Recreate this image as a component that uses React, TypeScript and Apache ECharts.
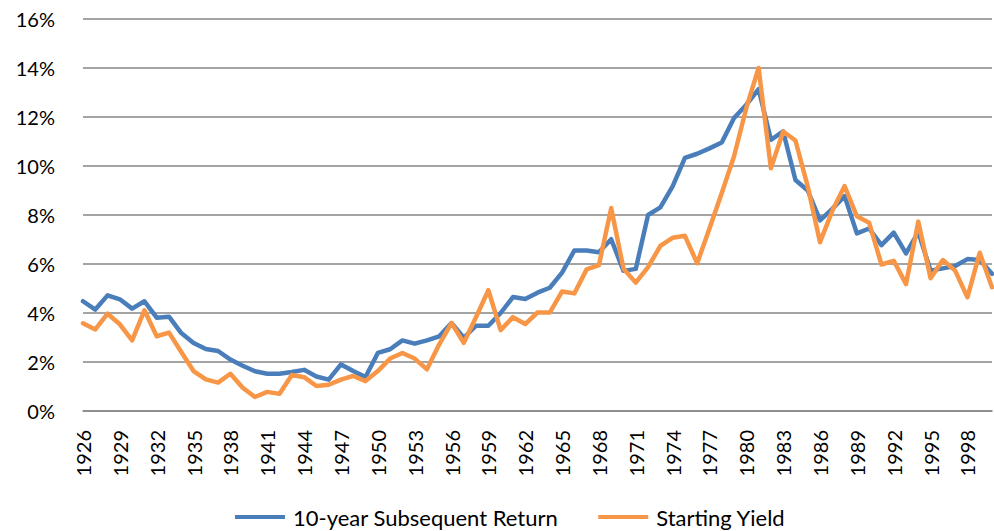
import React, { useEffect, useRef } from "react";
import * as echarts from "echarts";

const years: string[] = [];
for (let y = 1926; y <= 2000; y++) years.push(String(y));

const subsequentReturn = [
  4.48, 4.14, 4.72, 4.56, 4.18, 4.48, 3.81, 3.85, 3.18, 2.78,
  2.53, 2.45, 2.10, 1.85, 1.62, 1.52, 1.52, 1.59, 1.68, 1.41,
  1.28, 1.90, 1.63, 1.39, 2.37, 2.52, 2.88, 2.75, 2.88, 3.05,
  3.59, 2.99, 3.48, 3.48, 4.0, 4.65, 4.57, 4.83, 5.03, 5.65,
  6.55, 6.55, 6.48, 7.01, 5.72, 5.8, 8.0, 8.31, 9.17, 10.33,
  10.5, 10.72, 10.96, 11.96, 12.5, 13.14, 11.07, 11.41, 9.43, 9.0,
  7.78, 8.25, 8.77, 7.25, 7.45, 6.77, 7.28, 6.43, 7.3, 5.73,
  5.82, 5.92, 6.2, 6.16, 5.6,
];

const startingYield = [
  3.58, 3.33, 3.97, 3.54, 2.88, 4.11, 3.05, 3.2, 2.41, 1.63,
  1.29, 1.16, 1.52, 0.95, 0.57, 0.78, 0.70, 1.47, 1.38, 1.02,
  1.07, 1.28, 1.43, 1.22, 1.63, 2.14, 2.37, 2.14, 1.7, 2.72,
  3.59, 2.78, 3.84, 4.93, 3.3, 3.83, 3.55, 4.02, 4.02, 4.88,
  4.8, 5.78, 5.95, 8.28, 5.81, 5.24, 5.87, 6.74, 7.07, 7.15,
  6.03, 7.45, 8.9, 10.4, 12.37, 14.0, 9.91, 11.41, 11.04, 9.16,
  6.89, 8.17, 9.18, 7.95, 7.68, 5.98, 6.13, 5.18, 7.73, 5.42,
  6.16, 5.73, 4.64, 6.46, 5.05,
];

const seriesNames = ["10-year Subsequent Return", "Starting Yield"];

export default function App() {
  const ref = useRef<HTMLDivElement>(null);
  useEffect(() => {
    if (!ref.current) return;
    const chart = echarts.init(ref.current, undefined, { renderer: "svg" });
    const font = "Lato, 'Liberation Sans', sans-serif";
    chart.setOption({
      animation: false,
      textStyle: { fontFamily: font },
      grid: { left: 83, right: 2, top: 19, bottom: 120, containLabel: false },
      legend: {
        left: 235,
        top: 506,
        padding: 0,
        itemWidth: 50,
        itemHeight: 4,
        itemGap: 40,
        icon: "rect",
        textStyle: { fontSize: 22, color: "#000", fontFamily: font, padding: [0, 0, 0, 3] },
        data: seriesNames,
      },
      xAxis: {
        type: "category",
        data: years,
        boundaryGap: false,
        axisLine: { show: true, lineStyle: { color: "#868686", width: 1.5 } },
        axisTick: { show: false },
        axisLabel: {
          interval: 2,
          rotate: 90,
          margin: 19,
          fontSize: 20,
          color: "#000",
          fontFamily: font,
        },
        splitLine: { show: false },
      },
      yAxis: {
        type: "value",
        min: 0,
        max: 16,
        interval: 2,
        axisLine: { show: false },
        axisTick: { show: false },
        axisLabel: {
          formatter: "{value}%",
          margin: 28,
          fontSize: 20,
          color: "#000",
          fontFamily: font,
        },
        splitLine: { show: true, lineStyle: { color: "#868686", width: 1.5 } },
      },
      series: [
        {
          name: seriesNames[0],
          type: "line",
          data: subsequentReturn,
          showSymbol: false,
          symbol: "none",
          itemStyle: { color: "#4A7EBB" },
          lineStyle: { color: "#4A7EBB", width: 4.5, cap: "round", join: "round" },
        },
        {
          name: seriesNames[1],
          type: "line",
          data: startingYield,
          showSymbol: false,
          symbol: "none",
          itemStyle: { color: "#F79646" },
          lineStyle: { color: "#F79646", width: 4.5, cap: "round", join: "round" },
        },
      ],
    });
    return () => chart.dispose();
  }, []);
  return <div ref={ref} style={{ width: 994, height: 531, position: "absolute", left: 0, top: 0 }} />;
}
